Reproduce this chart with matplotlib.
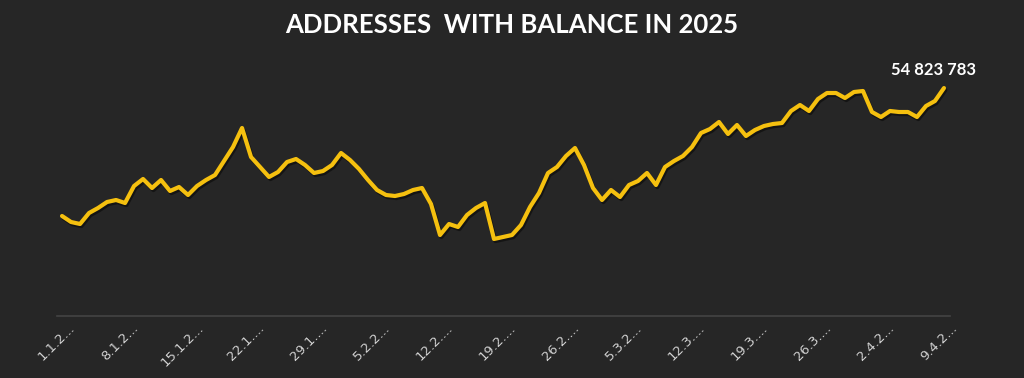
import numpy as np
import matplotlib
matplotlib.use("Agg")
import matplotlib.pyplot as plt
import matplotlib.patheffects as pe
from matplotlib.transforms import ScaledTranslation

# addresses with balance, thousands, one value per day 1.1.2025 - 9.4.2025
balance_k = [
    54312, 54288, 54280, 54324, 54344, 54368, 54376, 54364, 54432, 54460,
    54424, 54456, 54412, 54428, 54396, 54432, 54456, 54476, 54532, 54588,
    54664, 54548, 54508, 54468, 54488, 54528, 54540, 54516, 54484, 54492,
    54516, 54564, 54536, 54500, 54456, 54416, 54396, 54392, 54400, 54416,
    54424, 54360, 54236, 54280, 54268, 54316, 54344, 54364, 54220, 54228,
    54236, 54276, 54348, 54404, 54484, 54508, 54552, 54584, 54516, 54424,
    54376, 54416, 54388, 54436, 54452, 54484, 54436, 54508, 54532, 54552,
    54588, 54644, 54660, 54688, 54640, 54676, 54632, 54656, 54672, 54680,
    54684, 54732, 54756, 54732, 54780, 54804, 54804, 54784, 54808, 54812,
    54728, 54708, 54732, 54728, 54728, 54708, 54752, 54772, 54823.783,
]
tick_days = [0, 7, 14, 21, 28, 35, 42, 49, 56, 63, 70, 77, 84, 91, 98]
tick_labels = ['1.1.2...', '8.1.2...', '15.1.2...', '22.1....', '29.1....',
               '5.2.2...', '12.2....', '19.2....', '26.2....', '5.3.2...',
               '12.3....', '19.3....', '26.3....', '2.4.2...', '9.4.2...']
title = "ADDRESSES  WITH BALANCE IN 2025"

bg = '#262626'
days = np.arange(len(balance_k))

fig = plt.figure(figsize=(10.24, 3.78), dpi=100, facecolor=bg)
ax = fig.add_axes([57 / 1024, 62 / 378, 893 / 1024, 256 / 378])
ax.set_facecolor(bg)

ax.plot(days, balance_k, color='#F5C00F', lw=3.0, solid_joinstyle='round',
        solid_capstyle='round',
        path_effects=[pe.SimpleLineShadow(offset=(1, -1.5), shadow_color='black', alpha=0.45),
                      pe.Normal()])

ax.set_xlim(-0.56, 98.67)
ax.set_ylim(53912, 54936)

for s in ['top', 'right', 'left']:
    ax.spines[s].set_visible(False)
ax.spines['bottom'].set_color('#444444')
ax.spines['bottom'].set_linewidth(1.2)
ax.set_yticks([])
ax.set_xticks(tick_days)
ax.set_xticklabels(tick_labels, rotation=45, ha='center', va='top')
ax.tick_params(axis='x', length=0, pad=4, labelsize=9.5, labelcolor='#d2d2d2')
for lbl in ax.get_xticklabels():
    lbl.set_transform(lbl.get_transform() + ScaledTranslation(-4 / 72, 0, fig.dpi_scale_trans))

last = balance_k[-1] * 1000
last_txt = f"{int(round(last)):,}".replace(',', ' ')
ax.annotate(last_txt, (days[-1], balance_k[-1]), xytext=(-10, 10), textcoords='offset pixels',
            ha='center', va='bottom', color='white', fontsize=12, fontweight='bold',
            family='Lato')

fig.text(0.5, 1 - 25 / 378, title, ha='center', va='center', color='white',
         fontsize=18.5, fontweight='bold', family='Lato')

fig.savefig('out.png', dpi=100, facecolor=bg)
